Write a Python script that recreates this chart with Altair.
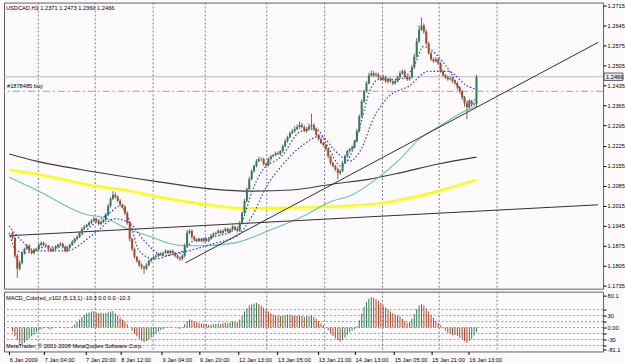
import altair as alt
import pandas as pd

# ---------------- data ----------------
closes = [
    1.1903, 1.1840, 1.1795, 1.1815, 1.1850, 1.1864, 1.1875, 1.1857, 1.1850, 1.1861,
    1.1864, 1.1878, 1.1885, 1.1878, 1.1875, 1.1864, 1.1857, 1.1864, 1.1871, 1.1878,
    1.1882, 1.1871, 1.1857, 1.1868, 1.1878, 1.1889, 1.1899, 1.1906, 1.1920, 1.1934,
    1.1941, 1.1948, 1.1955, 1.1962, 1.1969, 1.1962, 1.1951, 1.1958, 1.1965, 1.1983,
    1.2014, 1.2039, 1.2053, 1.2046, 1.2032, 1.2018, 1.2011, 1.1990, 1.1955, 1.1899,
    1.1864, 1.1836, 1.1822, 1.1808, 1.1801, 1.1795, 1.1808, 1.1822, 1.1829, 1.1836,
    1.1840, 1.1847, 1.1843, 1.1850, 1.1857, 1.1850, 1.1857, 1.1850, 1.1840, 1.1833,
    1.1829, 1.1840, 1.1875, 1.1920, 1.1927, 1.1906, 1.1896, 1.1892, 1.1899, 1.1892,
    1.1899, 1.1892, 1.1899, 1.1910, 1.1917, 1.1920, 1.1927, 1.1920, 1.1927, 1.1934,
    1.1924, 1.1931, 1.1941, 1.1934, 1.1927, 1.1955, 1.1990, 1.2032, 1.2073, 1.2108,
    1.2136, 1.2154, 1.2171, 1.2178, 1.2178, 1.2161, 1.2157, 1.2178, 1.2188, 1.2192,
    1.2199, 1.2196, 1.2206, 1.2223, 1.2241, 1.2255, 1.2269, 1.2276, 1.2283, 1.2290,
    1.2297, 1.2290, 1.2276, 1.2283, 1.2293, 1.2297, 1.2283, 1.2262, 1.2248, 1.2234,
    1.2227, 1.2213, 1.2188, 1.2164, 1.2154, 1.2143, 1.2129, 1.2136, 1.2164, 1.2188,
    1.2206, 1.2213, 1.2220, 1.2241, 1.2276, 1.2328, 1.2380, 1.2415, 1.2443, 1.2471,
    1.2478, 1.2471, 1.2474, 1.2464, 1.2457, 1.2464, 1.2450, 1.2457, 1.2450, 1.2443,
    1.2450, 1.2464, 1.2478, 1.2485, 1.2467, 1.2457, 1.2464, 1.2499, 1.2537, 1.2590,
    1.2631, 1.2645, 1.2624, 1.2583, 1.2548, 1.2527, 1.2520, 1.2527, 1.2513, 1.2485,
    1.2471, 1.2464, 1.2457, 1.2460, 1.2450, 1.2443, 1.2429, 1.2415, 1.2394, 1.2373,
    1.2359, 1.2380, 1.2369, 1.2371, 1.2466,
]
first_open = 1.1920

up_pips = [
    5, 4, 6, 8, 5, 4, 6, 5, 4, 5,
    4, 6, 5, 4, 5, 3, 4, 5, 6, 4,
    5, 4, 3, 5, 4, 6, 4, 5, 6, 5,
    6, 4, 5, 6, 8, 4, 5, 6, 4, 7,
    8, 6, 13, 8, 5, 6, 4, 6, 5, 4,
    4, 5, 3, 4, 5, 4, 6, 5, 4, 4,
    5, 4, 6, 4, 5, 4, 4, 5, 3, 4,
    4, 6, 8, 10, 6, 5, 4, 5, 4, 3,
    4, 5, 4, 6, 5, 4, 5, 4, 6, 5,
    4, 5, 6, 4, 5, 6, 5, 7, 6, 8,
    6, 5, 7, 8, 6, 5, 4, 6, 5, 4,
    5, 6, 4, 6, 7, 5, 6, 8, 10, 9,
    12, 8, 6, 7, 9, 40, 6, 5, 4, 6,
    5, 4, 6, 4, 5, 4, 5, 6, 8, 6,
    5, 4, 6, 5, 8, 6, 7, 6, 8, 9,
    10, 8, 7, 6, 5, 8, 6, 5, 6, 4,
    5, 6, 8, 6, 5, 4, 6, 8, 10, 12,
    15, 28, 8, 6, 5, 7, 6, 8, 5, 6,
    6, 5, 7, 8, 6, 5, 6, 5, 4, 5,
    6, 8, 5, 6, 7,
]
dn_pips = [
    6, 8, 32, 6, 5, 6, 4, 5, 6, 5,
    5, 4, 6, 5, 4, 6, 5, 4, 5, 6,
    4, 6, 5, 4, 5, 4, 6, 5, 4, 6,
    5, 4, 6, 5, 4, 6, 5, 4, 5, 6,
    5, 6, 4, 6, 5, 4, 6, 8, 6, 10,
    8, 6, 7, 8, 10, 18, 6, 5, 6, 4,
    5, 6, 4, 5, 4, 6, 5, 4, 6, 5,
    8, 5, 6, 4, 5, 8, 6, 5, 4, 5,
    6, 4, 5, 4, 6, 5, 4, 6, 5, 4,
    5, 6, 4, 5, 6, 4, 5, 4, 6, 5,
    4, 6, 5, 4, 8, 6, 5, 4, 6, 5,
    4, 5, 6, 5, 4, 6, 5, 4, 6, 5,
    6, 5, 4, 6, 5, 8, 6, 5, 6, 4,
    5, 6, 8, 6, 5, 7, 21, 6, 5, 4,
    6, 5, 4, 5, 6, 5, 4, 6, 5, 4,
    5, 6, 4, 5, 6, 5, 6, 8, 5, 6,
    5, 4, 6, 5, 8, 6, 5, 4, 6, 5,
    6, 5, 8, 6, 5, 6, 5, 4, 6, 5,
    4, 6, 5, 4, 6, 5, 8, 6, 10, 12,
    42, 6, 8, 5, 11,
]
macd_vals = [
    -10, -22, -32, -40, -43, -38, -32, -27, -22, -18,
    -12, -8, -4, -2, -1, -3, -4, -2, 0, 1,
    2, 0, -2, -1, 1, 3, 8, 14, 20, 26,
    32, 36, 38, 40, 41, 38, 36, 37, 35, 36,
    38, 40, 41, 36, 30, 25, 20, 14, 8, 0,
    -8, -15, -22, -28, -33, -36, -34, -30, -25, -20,
    -15, -10, -7, -4, -1, 1, 2, 1, 0, -2,
    -3, -1, 8, 16, 20, 18, 16, 13, 12, 10,
    9, 8, 7, 7, 8, 9, 10, 9, 11, 12,
    11, 13, 15, 14, 13, 20, 30, 40, 48, 55,
    58, 60, 62, 59, 55, 50, 45, 40, 36, 33,
    31, 30, 29, 30, 31, 33, 32, 30, 29, 30,
    31, 29, 27, 28, 29, 30, 27, 22, 17, 11,
    6, 1, -6, -14, -21, -27, -32, -35, -31, -25,
    -18, -12, -8, -4, 4, 18, 35, 52, 64, 72,
    76, 75, 71, 67, 62, 56, 50, 45, 40, 36,
    33, 30, 27, 22, 16, 12, 13, 22, 34, 46,
    55, 58, 56, 48, 40, 32, 24, 17, 11, 5,
    -2, -8, -13, -16, -19, -18, -21, -25, -29, -34,
    -38, -34, -28, -20, -10.3,
]

# moving averages (bar index, price)
yellow_idx = [-1.4, 10, 34.6, 49.8, 59.2, 79.7, 96.1, 107.1, 130.1, 154.7, 169.8, 179.3, 194]
yellow_val = [1.2140, 1.2126, 1.2084, 1.2066, 1.2049, 1.2021, 1.2007, 1.2007, 1.2011, 1.2025, 1.2049, 1.2070, 1.2105]
black_idx = [-1.4, 10, 34.6, 59.2, 83.8, 100.2, 116.6, 134.2, 149.3, 161.6, 178, 194]
black_val = [1.2196, 1.2171, 1.2133, 1.2101, 1.2073, 1.2066, 1.2070, 1.2091, 1.2108, 1.2129, 1.2161, 1.2185]
green_idx = [-1.4, 2, 10, 30, 39, 48, 59, 66, 73, 80, 93, 107, 121, 134, 141, 151, 162, 170, 178, 189, 194]
green_val = [1.2115, 1.2101, 1.2070, 1.1986, 1.1972, 1.1934, 1.1903, 1.1882, 1.1875, 1.1875, 1.1885,
             1.1927, 1.1976, 1.2032, 1.2049, 1.2101, 1.2178, 1.2248, 1.2290, 1.2345, 1.2363]
blue1_idx = [-1.4, 1.8, 5.9, 14.1, 22.3, 28.4, 34.6, 40.7, 44.8, 48.9, 53, 59.2, 67.4, 71.5, 75.6, 83.8,
             92, 96.1, 100.2, 104.3, 112.5, 120.7, 126.8, 132.9, 137, 141.1, 145.3, 149.3, 153.4, 161.6,
             167.8, 171.9, 178, 184.2, 190.3, 194]
blue1_val = [1.1920, 1.1857, 1.1850, 1.1871, 1.1871, 1.1910, 1.1955, 1.1990, 1.2014, 1.1962, 1.1857,
             1.1829, 1.1847, 1.1857, 1.1892, 1.1906, 1.1927, 1.1962, 1.2066, 1.2136, 1.2188, 1.2276,
             1.2283, 1.2206, 1.2154, 1.2188, 1.2293, 1.2415, 1.2457, 1.2457, 1.2502, 1.2572, 1.2537,
             1.2467, 1.2380, 1.2387]
blue2_idx = [-1.4, 3.9, 10, 22.3, 34.6, 42.8, 48.9, 55.1, 63.3, 73.5, 83.8, 94, 100.2, 106.3, 112.5,
             120.7, 128.9, 135, 141.1, 145.3, 151.4, 157.5, 165.7, 173.9, 182.1, 190.3, 194]
blue2_val = [1.1944, 1.1892, 1.1857, 1.1857, 1.1920, 1.1969, 1.1955, 1.1892, 1.1840, 1.1857, 1.1882,
             1.1910, 1.1979, 1.2084, 1.2154, 1.2223, 1.2258, 1.2206, 1.2171, 1.2206, 1.2328, 1.2398,
             1.2433, 1.2485, 1.2485, 1.2433, 1.2422]

trend1_idx = [-1.4, 244.8]
trend1_val = [1.1910, 1.2018]
trend2_idx = [72.3, 244.8]
trend2_val = [1.1815, 1.2586]

bid_price = 1.2466
order_price = 1.2415
order_label = "#1878485 buy"
header_text = "USDCAD,H1  1.2371 1.2473 1.2360 1.2466"
macd_text = "MACD_Colored_v102 (5,13,1) -10.3 0.0 0.0 -10.3"
copyright_text = "MetaTrader, \u00a9 2001-2008 MetaQuotes Software Corp."

price_ticks = [1.2715, 1.2645, 1.2575, 1.2505, 1.2435, 1.2365, 1.2295, 1.2225,
               1.2155, 1.2085, 1.2015, 1.1945, 1.1875, 1.1805, 1.1735]
grid_idx = [10.8, 34.6, 58.8, 80.6, 106.3, 130.5, 154.7, 178.4, 202.6]
time_idx = [-1.4, 13.3, 30.5, 45.3, 62.5, 78.1, 94.5, 110.8, 127.8, 143.2, 159.6, 175.2, 190.8]
time_text = ["6 Jan 2009", "7 Jan 04:00", "7 Jan 20:00", "8 Jan 12:00", "9 Jan 04:00",
             "9 Jan 20:00", "12 Jan 13:00", "13 Jan 05:00", "13 Jan 21:00", "14 Jan 13:00",
             "15 Jan 05:00", "15 Jan 21:00", "16 Jan 13:00"]
macd_levels = [45, 30, 15, 0, -15, -30, -45]
macd_axis_vals = [80.1, 45, 30, 15, 0, -15, -30, -45, -55]
macd_axis_text = ["80.1", "45", "30", "15", "0.00", "-15", "-30", "-45", "-81.1"]

# ---------------- tables ----------------
n = len(closes)
opens = [first_open] + closes[:-1]
rows = []
for i in range(n):
    o, c = opens[i], closes[i]
    rows.append({
        "i": i, "open": o, "close": c,
        "high": max(o, c) + up_pips[i] / 10000.0,
        "low": min(o, c) - dn_pips[i] / 10000.0,
        "dir": "bull" if c >= o else "bear",
    })
candles = pd.DataFrame(rows)

mrows = []
for i, v in enumerate(macd_vals):
    prev = macd_vals[i - 1] if i > 0 else v + 1
    mrows.append({"i": i, "v": v, "zero": 0, "dir": "up" if v >= prev else "down"})
macd_df = pd.DataFrame(mrows)


def line_df(xs, ys):
    return pd.DataFrame({"i": xs, "p": ys})


FONT = "Liberation Sans"
FS = 5.7
W = 601
xscale = alt.Scale(domain=[-1.475, 244.84], nice=False, zero=False)
yscale = alt.Scale(domain=[1.17248, 1.27255], nice=False, zero=False)
yaxis = alt.Axis(orient="right", values=price_ticks, format=".4f", title=None,
                 labelFont=FONT, labelFontSize=FS, labelColor="#000000", labelPadding=1,
                 tickSize=3, tickColor="#000000", domain=False, grid=False)
X = lambda f="i": alt.X(f"{f}:Q", scale=xscale, axis=None)
Y = lambda f: alt.Y(f"{f}:Q", scale=yscale, axis=yaxis)

grid_df = pd.DataFrame({"i": grid_idx})
vgrid = alt.Chart(grid_df).mark_rule(color="#808080", strokeDash=[2, 2], strokeWidth=1).encode(x=X())

bid = alt.Chart(pd.DataFrame({"p": [bid_price]})).mark_rule(color="#b8b8b8", strokeWidth=1).encode(y=Y("p"))
order = alt.Chart(pd.DataFrame({"p": [order_price]})).mark_rule(
    color="#f2a07a", strokeWidth=1.2, strokeDash=[7, 3, 2, 3]).encode(y=Y("p"))


def ma(xs, ys, color, width, dash=None):
    kw = dict(color=color, strokeWidth=width, interpolate="monotone")
    if dash:
        kw["strokeDash"] = dash
    return alt.Chart(line_df(xs, ys)).mark_line(**kw).encode(x=X(), y=Y("p"), order="i:Q")


yellow = ma(yellow_idx, yellow_val, "#ffff00", 2.4)
black = ma(black_idx, black_val, "#3c3c3c", 1.1)
green = ma(green_idx, green_val, "#66c79a", 1.1)
blue1 = ma(blue1_idx, blue1_val, "#3434f0", 1.2, [1.5, 2])
blue2 = ma(blue2_idx, blue2_val, "#3434f0", 1.2, [1.5, 2])
trend1 = alt.Chart(line_df(trend1_idx, trend1_val)).mark_line(color="#303030", strokeWidth=1).encode(x=X(), y=Y("p"))
trend2 = alt.Chart(line_df(trend2_idx, trend2_val)).mark_line(color="#303030", strokeWidth=1).encode(x=X(), y=Y("p"))

candle_color = alt.Color("dir:N", scale=alt.Scale(domain=["bull", "bear"], range=["#2e7d52", "#b5441f"]), legend=None)
wicks = alt.Chart(candles).mark_rule(color="#6a6a6a", strokeWidth=1).encode(
    x=X(), y=Y("low"), y2="high:Q")
bodies = alt.Chart(candles).mark_bar(size=2).encode(
    x=X(), y=Y("open"), y2="close:Q", color=candle_color)

header = alt.Chart(pd.DataFrame({"t": [header_text]})).mark_text(
    align="left", baseline="middle", font=FONT, fontSize=FS, color="#000000").encode(
    x=alt.value(2), y=alt.value(5), text="t:N")
order_txt = alt.Chart(pd.DataFrame({"t": [order_label], "p": [order_price]})).mark_text(
    align="left", baseline="bottom", dy=-2, font=FONT, fontSize=FS, color="#000000").encode(
    x=alt.value(3), y=Y("p"), text="t:N")
bid_box = alt.Chart(pd.DataFrame({"p": [bid_price - 0.0013], "p2": [bid_price + 0.0013]})).mark_rect(
    fill="#e8e8e8", stroke="#404040", strokeWidth=0.8).encode(
    x=alt.value(W + 1), x2=alt.value(W + 20), y=Y("p"), y2="p2:Q")
bid_txt = alt.Chart(pd.DataFrame({"p": [bid_price], "t": [f"{bid_price:.4f}"]})).mark_text(
    align="left", baseline="middle", font=FONT, fontSize=FS, color="#000000").encode(
    x=alt.value(W + 3), y=Y("p"), text="t:N")

main = alt.layer(
    vgrid, bid, order, yellow, black, green, trend1, trend2, blue2, blue1,
    wicks, bodies, header, order_txt, bid_box, bid_txt,
).properties(width=W, height=287)

# ---------------- MACD panel ----------------
mscale = alt.Scale(domain=[-60, 90], nice=False, zero=False)
lab_expr = "[" + ",".join(f"'{t}'" for t in macd_axis_text) + "][indexof([" + \
    ",".join(str(v) for v in macd_axis_vals) + "], datum.value)]"
maxis = alt.Axis(orient="right", values=macd_axis_vals, labelExpr=lab_expr, title=None,
                 labelFont=FONT, labelFontSize=FS, labelColor="#000000", labelPadding=1,
                 tickSize=3, tickColor="#000000", domain=False, grid=False)
t_expr = "[" + ",".join(f"'{t}'" for t in time_text) + "][indexof([" + \
    ",".join(str(v) for v in time_idx) + "], datum.value)]"
taxis = alt.Axis(orient="bottom", values=time_idx, labelExpr=t_expr, title=None,
                 labelFont=FONT, labelFontSize=FS, labelColor="#000000", labelAlign="left",
                 labelPadding=2, labelFlush=False, labelOverlap=False, labelBound=False,
                 tickSize=3, tickColor="#000000", domain=False, grid=False)
XM = alt.X("i:Q", scale=xscale, axis=taxis)

lv = alt.Chart(pd.DataFrame({"v": macd_levels})).mark_rule(
    color="#a0a0a0", strokeDash=[2, 2], strokeWidth=1).encode(
    y=alt.Y("v:Q", scale=mscale, axis=maxis))
mgrid = alt.Chart(grid_df).mark_rule(color="#808080", strokeDash=[2, 2], strokeWidth=1).encode(x=XM)
mbars = alt.Chart(macd_df).mark_bar(size=1).encode(
    x=XM, y=alt.Y("zero:Q", scale=mscale, axis=maxis), y2="v:Q",
    color=alt.Color("dir:N", scale=alt.Scale(domain=["up", "down"], range=["#5aa874", "#f05050"]), legend=None))
mtxt = alt.Chart(pd.DataFrame({"t": [macd_text]})).mark_text(
    align="left", baseline="middle", font=FONT, fontSize=FS, color="#000000").encode(
    x=alt.value(2), y=alt.value(6), text="t:N")
ctxt = alt.Chart(pd.DataFrame({"t": [copyright_text]})).mark_text(
    align="left", baseline="middle", font=FONT, fontSize=FS, color="#000000").encode(
    x=alt.value(2), y=alt.value(55), text="t:N")

macd = alt.layer(lv, mgrid, mbars, mtxt, ctxt).properties(width=W, height=60)

chart = alt.vconcat(main, macd, spacing=1).properties(
    padding={"left": 2, "top": 1, "right": 0, "bottom": 0},
    background="#fcfafd",
).configure_view(stroke="#606060", strokeWidth=1)

chart.save("out.html", embed_options={"renderer": "svg", "actions": False})
